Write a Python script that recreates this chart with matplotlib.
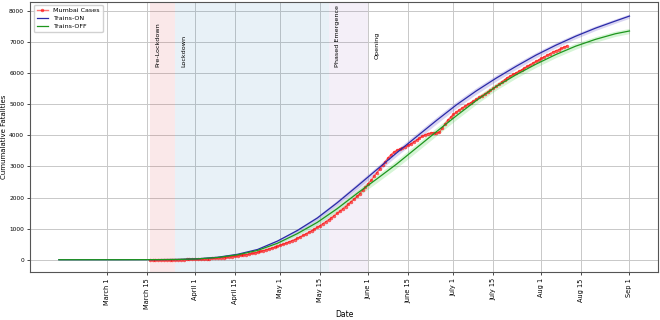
import pandas as pd
import matplotlib
matplotlib.use("Agg")
import matplotlib.pyplot as plt

# --- Model curves (weekly samples) ---
model_dates = [
    "2020-02-13", "2020-02-20", "2020-02-27", "2020-03-05", "2020-03-12",
    "2020-03-19", "2020-03-26", "2020-04-02", "2020-04-09", "2020-04-16",
    "2020-04-23", "2020-04-30", "2020-05-07", "2020-05-14", "2020-05-21",
    "2020-05-28", "2020-06-04", "2020-06-11", "2020-06-18", "2020-06-25",
    "2020-07-02", "2020-07-09", "2020-07-16", "2020-07-23", "2020-07-30",
    "2020-08-06", "2020-08-13", "2020-08-20", "2020-08-27", "2020-09-01",
]
trains_on = [0, 0, 0, 0, 1, 3, 8, 30, 80, 175, 330, 600, 940, 1340, 1830,
             2360, 2900, 3440, 3960, 4480, 4980, 5430, 5840, 6220, 6580,
             6900, 7190, 7450, 7680, 7840]
trains_off = [0, 0, 0, 0, 1, 3, 8, 28, 72, 160, 300, 530, 840, 1200, 1640,
              2130, 2600, 3080, 3600, 4120, 4630, 5120, 5570, 5950, 6290,
              6600, 6870, 7090, 7270, 7360]
on_spread = [0, 0, 0, 0, 0, 0, 0, 2, 5, 10, 20, 35, 50, 65, 80, 90, 100, 105,
             110, 110, 110, 105, 100, 95, 90, 85, 80, 75, 70, 70]
off_spread = [0, 0, 0, 0, 0, 0, 0, 2, 5, 10, 20, 35, 55, 75, 95, 110, 120,
              125, 130, 130, 125, 120, 115, 110, 105, 100, 95, 90, 85, 85]

# --- Mumbai daily cumulative fatalities (Mar 16 .. Aug 10) ---
mumbai_start = "2020-03-16"
mumbai = [
    # March 16-31
    0, 0, 1, 1, 1, 2, 3, 3, 4, 4, 5, 5, 6, 7, 8, 9,
    # April
    12, 15, 19, 23, 28, 33, 39, 45, 53, 61, 70, 80, 90, 100, 110, 123, 137,
    151, 166, 182, 200, 220, 243, 268, 294, 321, 348, 375, 400, 430,
    # May
    470, 500, 535, 570, 608, 648, 690, 735, 782, 830, 880, 932, 986, 1042,
    1100, 1160, 1222, 1286, 1352, 1420, 1490, 1562, 1636, 1712, 1790, 1870,
    1952, 2036, 2130, 2230, 2340,
    # June
    2450, 2560, 2680, 2800, 2920, 3040, 3160, 3280, 3380, 3460, 3520, 3560,
    3600, 3640, 3680, 3730, 3790, 3850, 3910, 3970, 4020, 4060, 4080, 4085,
    4090, 4095, 4230, 4370, 4490, 4590,
    # July
    4680, 4750, 4820, 4880, 4940, 5000, 5050, 5100, 5160, 5220, 5280, 5340,
    5400, 5455, 5510, 5580, 5650, 5720, 5790, 5860, 5910, 5960, 6010, 6060,
    6110, 6170, 6220, 6280, 6330, 6380, 6430,
    # August 1-10
    6480, 6530, 6580, 6630, 6680, 6720, 6760, 6800, 6840, 6880,
]

# --- Phases ---
phase_names = ["Pre-Lockdown", "Lockdown", "Phased Emergence"]
phase_starts = ["2020-03-16", "2020-03-25", "2020-05-18"]
phase_ends = ["2020-03-25", "2020-05-18", "2020-06-01"]
phase_colors = ["tab:red", "tab:blue", "tab:purple"]
label_names = ["Pre-Lockdown", "Lockdown", "Phased Emergence", "Opening"]
label_dates = ["2020-03-19", "2020-03-28", "2020-05-21", "2020-06-04"]
label_y = [6200, 6200, 6200, 6450]

tick_dates = ["2020-03-01", "2020-03-15", "2020-04-01", "2020-04-15",
              "2020-05-01", "2020-05-15", "2020-06-01", "2020-06-15",
              "2020-07-01", "2020-07-15", "2020-08-01", "2020-08-15",
              "2020-09-01"]
tick_labels = ["March 1", "March 15", "April 1", "April 15", "May 1",
               "May 15", "June 1", "June 15", "July 1", "July 15", "Aug 1",
               "Aug 15", "Sep 1"]


def main():
    plt.rcParams["font.family"] = ["DejaVu Sans"]
    fig = plt.figure(figsize=(6.6, 3.2), dpi=100)
    ax = fig.add_axes([0.046, 0.15, 0.951, 0.845])

    md = pd.to_datetime(model_dates)
    on = pd.Series(trains_on, dtype=float)
    off = pd.Series(trains_off, dtype=float)
    on_s = pd.Series(on_spread, dtype=float)
    off_s = pd.Series(off_spread, dtype=float)
    mum_dates = pd.date_range(mumbai_start, periods=len(mumbai), freq="D")

    for name, s, e, c in zip(phase_names, phase_starts, phase_ends, phase_colors):
        ax.axvspan(pd.Timestamp(s), pd.Timestamp(e), color=c, alpha=0.1, lw=0)

    ax.fill_between(md, on - on_s, on + on_s, color="slateblue", alpha=0.25, lw=0)
    ax.fill_between(md, off - off_s, off + off_s, color="limegreen", alpha=0.2, lw=0)

    ax.plot(mum_dates, mumbai, color="red", marker="o", markersize=2,
            markeredgewidth=0.5, lw=1, alpha=0.55, label="Mumbai Cases")
    ax.plot(md, on, color="#2a2aa8", lw=0.9, label="Trains-ON")
    ax.plot(md, off, color="#1e961e", lw=0.9, label="Trains-OFF")

    for name, d, y in zip(label_names, label_dates, label_y):
        ax.text(pd.Timestamp(d), y, name, rotation=90, fontsize=4.6,
                ha="center", va="bottom")

    ax.set_xticks(pd.to_datetime(tick_dates))
    ax.set_xticklabels(tick_labels, rotation=90, fontsize=4.8)
    ax.tick_params(axis="y", labelsize=4.2, length=2.5, width=0.5, pad=2)
    ax.tick_params(axis="x", length=2.5, width=0.5, pad=2)
    ax.set_yticks(range(0, 8001, 1000))
    ax.grid(True, color="#c8c8c8", lw=0.7)
    ax.set_axisbelow(True)
    for sp in ax.spines.values():
        sp.set_linewidth(0.8)
        sp.set_color("#555555")

    ax.set_xlabel("Date", fontsize=5.5)
    ax.xaxis.set_label_coords(0.5, -0.14)
    ax.set_ylabel("Cumumalative Fatalities", fontsize=5)
    ax.yaxis.set_label_coords(-0.037, 0.5)
    ax.legend(loc="upper left", fontsize=4.6, frameon=True, framealpha=0.9,
              handlelength=1.7, borderpad=0.5, labelspacing=0.35)

    fig.savefig("out.png", dpi=100)


if __name__ == "__main__":
    main()
